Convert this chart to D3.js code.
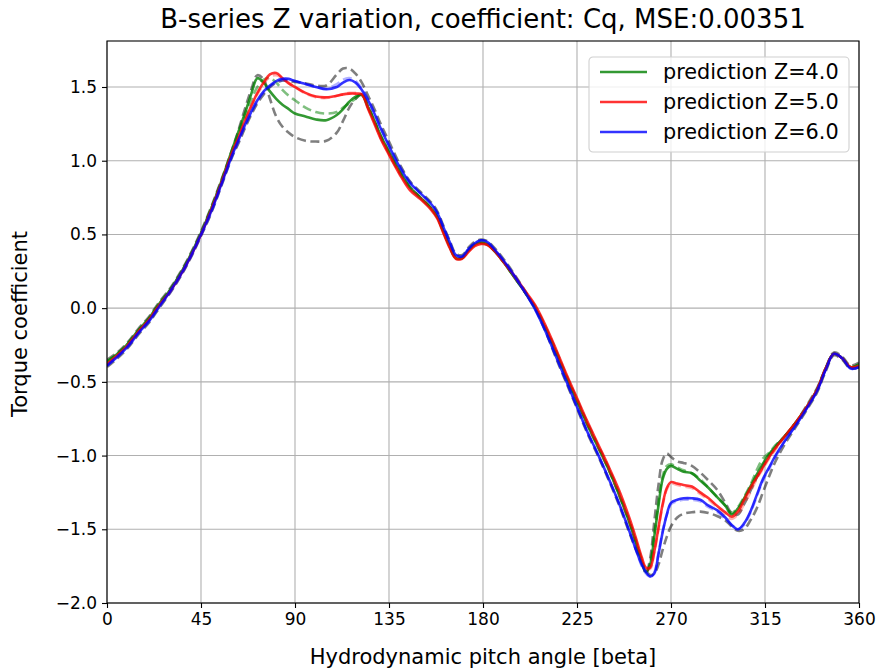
<!DOCTYPE html>
<html>
<head>
<meta charset="utf-8">
<script src="https://cdn.jsdelivr.net/npm/d3@7"></script>
<style>
  html, body { margin: 0; padding: 0; background: #fff; }
  svg text { font-family: "DejaVu Sans", sans-serif; fill: #000; }
</style>
</head>
<body>
<svg id="chart" width="883" height="672"></svg>
<script>
// Hydrodynamic pitch angle samples (degrees)
const angles = [0,5,10,15,20,25,30,35,40,45,50,55,60,
  63,66,69,72,75,78,81,84,87,90,
  95,100,105,110,
  113,116,119,122,125,128,131,
  135,140,145,150,155,
  158,161,164,167,170,173,176,179,182,
  186,190,195,200,205,210,215,220,225,230,235,240,245,250,
  253,256,258,260,262,264,266,268,270,
  273,276,280,284,288,292,296,299,302,305,308,311,314,317,320,
  325,330,335,340,344,348,352,356,360];

// Predicted torque coefficient Cq
const predZ4 = [-0.36,-0.31,-0.24,-0.15,-0.07,0.03,0.12,0.23,0.36,0.51,0.68,0.87,1.08,
  1.20,1.32,1.45,1.56,1.53,1.47,1.42,1.38,1.35,1.32,
  1.30,1.28,1.275,1.31,
  1.35,1.40,1.435,1.445,1.36,1.27,1.17,
  1.06,0.93,0.82,0.75,0.68,
  0.62,0.52,0.42,0.34,0.34,0.39,0.43,0.445,0.435,
  0.38,0.31,0.21,0.11,0.0,-0.14,-0.30,-0.47,-0.63,-0.79,-0.94,-1.09,-1.26,-1.45,
  -1.58,-1.72,-1.79,-1.74,-1.55,-1.34,-1.16,-1.09,-1.07,
  -1.09,-1.11,-1.12,-1.17,-1.22,-1.28,-1.34,-1.40,-1.36,-1.29,-1.21,-1.13,-1.055,-0.99,-0.94,
  -0.86,-0.77,-0.67,-0.55,-0.41,-0.31,-0.34,-0.40,-0.38];

const predZ5 = [-0.38,-0.32,-0.25,-0.16,-0.08,0.02,0.11,0.22,0.35,0.50,0.67,0.86,1.06,
  1.16,1.27,1.37,1.46,1.53,1.585,1.595,1.56,1.525,1.50,
  1.46,1.435,1.43,1.44,
  1.45,1.455,1.455,1.45,1.35,1.25,1.15,
  1.04,0.91,0.80,0.74,0.67,
  0.61,0.51,0.41,0.335,0.335,0.38,0.42,0.435,0.43,
  0.38,0.31,0.22,0.12,0.02,-0.12,-0.28,-0.45,-0.61,-0.77,-0.92,-1.07,-1.23,-1.42,
  -1.55,-1.69,-1.76,-1.76,-1.65,-1.49,-1.33,-1.22,-1.18,
  -1.19,-1.20,-1.21,-1.25,-1.29,-1.34,-1.385,-1.415,-1.38,-1.30,-1.22,-1.15,-1.08,-1.01,-0.95,
  -0.86,-0.77,-0.67,-0.55,-0.41,-0.31,-0.34,-0.40,-0.39];

const predZ6 = [-0.39,-0.33,-0.26,-0.17,-0.09,0.01,0.11,0.22,0.35,0.50,0.66,0.85,1.04,
  1.14,1.24,1.33,1.41,1.47,1.51,1.54,1.555,1.555,1.54,
  1.52,1.50,1.485,1.50,
  1.53,1.547,1.53,1.48,1.41,1.32,1.22,
  1.10,0.96,0.85,0.78,0.71,
  0.65,0.55,0.45,0.36,0.35,0.40,0.44,0.46,0.45,
  0.39,0.32,0.22,0.11,-0.01,-0.16,-0.33,-0.50,-0.67,-0.84,-0.99,-1.15,-1.32,-1.51,
  -1.63,-1.74,-1.79,-1.82,-1.80,-1.67,-1.52,-1.40,-1.32,
  -1.30,-1.29,-1.29,-1.30,-1.34,-1.37,-1.42,-1.47,-1.50,-1.46,-1.38,-1.27,-1.16,-1.08,-1.00,
  -0.89,-0.79,-0.68,-0.56,-0.42,-0.31,-0.34,-0.41,-0.40];

// Reference B-series data (dashed)
const dataZ3 = [-0.35,-0.30,-0.23,-0.14,-0.06,0.04,0.13,0.24,0.37,0.52,0.69,0.88,1.08,
  1.21,1.35,1.48,1.58,1.55,1.42,1.30,1.23,1.19,1.16,
  1.135,1.13,1.135,1.19,
  1.27,1.36,1.42,1.45,1.37,1.27,1.16,
  1.05,0.92,0.82,0.75,0.68,
  0.62,0.52,0.42,0.34,0.34,0.39,0.43,0.44,0.43,
  0.38,0.31,0.21,0.11,0.01,-0.13,-0.29,-0.46,-0.62,-0.78,-0.93,-1.08,-1.25,-1.44,
  -1.57,-1.71,-1.80,-1.70,-1.45,-1.20,-1.03,-0.985,-1.01,
  -1.04,-1.05,-1.07,-1.115,-1.17,-1.23,-1.32,-1.39,-1.40,-1.33,-1.24,-1.15,-1.07,-1.00,-0.94,
  -0.86,-0.77,-0.66,-0.54,-0.41,-0.30,-0.33,-0.39,-0.37];

const dataZ4 = [-0.37,-0.31,-0.24,-0.15,-0.07,0.03,0.12,0.23,0.36,0.51,0.68,0.87,1.06,
  1.18,1.30,1.41,1.50,1.55,1.56,1.53,1.48,1.44,1.41,
  1.36,1.33,1.32,1.33,
  1.36,1.39,1.42,1.45,1.37,1.27,1.17,
  1.06,0.93,0.82,0.75,0.68,
  0.62,0.52,0.42,0.34,0.34,0.39,0.43,0.445,0.435,
  0.38,0.31,0.21,0.11,0.0,-0.14,-0.30,-0.47,-0.63,-0.79,-0.94,-1.09,-1.26,-1.45,
  -1.58,-1.72,-1.79,-1.73,-1.53,-1.31,-1.14,-1.07,-1.06,
  -1.08,-1.10,-1.12,-1.16,-1.22,-1.28,-1.34,-1.39,-1.35,-1.28,-1.20,-1.10,-1.02,-0.98,-0.93,
  -0.86,-0.77,-0.67,-0.55,-0.41,-0.31,-0.34,-0.40,-0.38];

const dataZ5 = [-0.38,-0.32,-0.25,-0.16,-0.08,0.02,0.11,0.22,0.35,0.50,0.67,0.86,1.05,
  1.15,1.26,1.36,1.45,1.52,1.57,1.58,1.56,1.53,1.50,
  1.455,1.43,1.425,1.44,
  1.45,1.46,1.46,1.45,1.36,1.26,1.16,
  1.05,0.92,0.81,0.75,0.68,
  0.62,0.52,0.42,0.34,0.34,0.39,0.43,0.44,0.43,
  0.38,0.31,0.21,0.11,0.0,-0.14,-0.30,-0.47,-0.63,-0.79,-0.94,-1.09,-1.26,-1.45,
  -1.58,-1.71,-1.77,-1.77,-1.66,-1.50,-1.34,-1.23,-1.19,
  -1.20,-1.21,-1.22,-1.26,-1.30,-1.35,-1.40,-1.43,-1.40,-1.33,-1.25,-1.16,-1.09,-1.02,-0.96,
  -0.86,-0.77,-0.67,-0.55,-0.41,-0.31,-0.34,-0.40,-0.39];

const dataZ6 = [-0.39,-0.33,-0.26,-0.17,-0.09,0.01,0.10,0.21,0.34,0.49,0.65,0.84,1.03,
  1.13,1.23,1.32,1.40,1.46,1.50,1.53,1.545,1.55,1.54,
  1.52,1.50,1.49,1.52,
  1.55,1.56,1.54,1.49,1.42,1.33,1.23,
  1.11,0.97,0.86,0.78,0.71,
  0.65,0.55,0.45,0.36,0.35,0.40,0.44,0.46,0.45,
  0.39,0.32,0.22,0.11,-0.01,-0.16,-0.33,-0.50,-0.67,-0.84,-0.99,-1.15,-1.32,-1.51,
  -1.63,-1.75,-1.80,-1.82,-1.79,-1.66,-1.51,-1.40,-1.33,
  -1.31,-1.30,-1.30,-1.31,-1.35,-1.38,-1.43,-1.47,-1.50,-1.47,-1.39,-1.28,-1.17,-1.09,-1.01,
  -0.89,-0.79,-0.68,-0.56,-0.42,-0.31,-0.34,-0.41,-0.40];

const dataZ7 = [-0.40,-0.34,-0.27,-0.18,-0.10,0.00,0.10,0.21,0.34,0.49,0.65,0.84,1.03,
  1.12,1.22,1.31,1.39,1.45,1.50,1.53,1.545,1.54,1.535,
  1.525,1.51,1.51,1.585,
  1.625,1.625,1.59,1.53,1.44,1.35,1.25,
  1.13,0.98,0.86,0.79,0.72,
  0.66,0.56,0.46,0.37,0.36,0.41,0.45,0.465,0.455,
  0.40,0.33,0.23,0.12,0.0,-0.16,-0.34,-0.51,-0.68,-0.85,-1.00,-1.16,-1.33,-1.52,
  -1.63,-1.72,-1.78,-1.81,-1.80,-1.74,-1.64,-1.55,-1.48,
  -1.42,-1.395,-1.385,-1.38,-1.39,-1.41,-1.44,-1.48,-1.51,-1.50,-1.44,-1.36,-1.25,-1.14,-1.04,
  -0.91,-0.80,-0.69,-0.57,-0.43,-0.32,-0.35,-0.41,-0.40];

const xTicks = [0,45,90,135,180,225,270,315,360];
const yTicks = [-2.0,-1.5,-1.0,-0.5,0.0,0.5,1.0,1.5];
const legendLabels = ["prediction Z=4.0","prediction Z=5.0","prediction Z=6.0"];

const svg = d3.select("#chart");
const margin = {left: 107, right: 24, top: 41, bottom: 69};
const W = 883, H = 672;
const x = d3.scaleLinear().domain([0, 360]).range([margin.left, W - margin.right]);
const y = d3.scaleLinear().domain([-2.0, 1.812]).range([H - margin.bottom, margin.top]);

// grid
const grid = svg.append("g");
grid.selectAll("line.gx").data(xTicks).join("line")
  .attr("x1", d => x(d)).attr("x2", d => x(d))
  .attr("y1", y.range()[1]).attr("y2", y.range()[0])
  .attr("stroke", "#b0b0b0").attr("stroke-width", 1.1);
grid.selectAll("line.gy").data(yTicks).join("line")
  .attr("y1", d => y(d)).attr("y2", d => y(d))
  .attr("x1", x.range()[0]).attr("x2", x.range()[1])
  .attr("stroke", "#b0b0b0").attr("stroke-width", 1.1);

// curves
svg.append("clipPath").attr("id", "plotclip").append("rect")
  .attr("x", x.range()[0]).attr("y", y.range()[1])
  .attr("width", x.range()[1] - x.range()[0]).attr("height", y.range()[0] - y.range()[1]);
const plot = svg.append("g").attr("clip-path", "url(#plotclip)");
const line = d3.line().x((d, i) => x(angles[i])).y(d => y(d)).curve(d3.curveCatmullRom.alpha(0.5));

const dashed = "9,4.5";
const layers = [
  {v: dataZ3, c: "#000", o: 0.5, dash: dashed},
  {v: dataZ7, c: "#000", o: 0.5, dash: dashed},
  {v: dataZ4, c: "#008000", o: 0.5, dash: dashed},
  {v: predZ4, c: "#008000", o: 0.8, dash: null},
  {v: dataZ5, c: "#ff0000", o: 0.3, dash: dashed},
  {v: predZ5, c: "#ff0000", o: 0.8, dash: null},
  {v: dataZ6, c: "#0000ff", o: 0.3, dash: dashed},
  {v: predZ6, c: "#0000ff", o: 0.8, dash: null}
];
layers.forEach(l => {
  plot.append("path").attr("d", line(l.v))
    .attr("fill", "none").attr("stroke", l.c).attr("stroke-opacity", l.o)
    .attr("stroke-width", 2.6).attr("stroke-dasharray", l.dash)
    .attr("stroke-linejoin", "round");
});

// axes
const fmtY = d => d3.format(".1f")(d).replace("-", "\u2212");
const xAxis = svg.append("g").attr("transform", `translate(0,${y.range()[0]})`)
  .call(d3.axisBottom(x).tickValues(xTicks).tickSize(5).tickPadding(5).tickFormat(d3.format("d")));
const yAxis = svg.append("g").attr("transform", `translate(${x.range()[0]},0)`)
  .call(d3.axisLeft(y).tickValues(yTicks).tickSize(5).tickPadding(5).tickFormat(fmtY));
[xAxis, yAxis].forEach(a => {
  a.select(".domain").remove();
  a.selectAll("line").attr("stroke", "#000").attr("stroke-width", 1.1);
  a.selectAll("text").style("font-family", "DejaVu Sans").style("font-size", "17px");
});

// frame
svg.append("rect").attr("x", x.range()[0]).attr("y", y.range()[1])
  .attr("width", x.range()[1] - x.range()[0]).attr("height", y.range()[0] - y.range()[1])
  .attr("fill", "none").attr("stroke", "#000").attr("stroke-width", 1.1);

// title and axis labels
svg.append("text").attr("x", (x.range()[0] + x.range()[1]) / 2).attr("y", 28)
  .attr("text-anchor", "middle").style("font-size", "26px")
  .text("B-series Z variation, coefficient: Cq, MSE:0.00351");
svg.append("text").attr("x", (x.range()[0] + x.range()[1]) / 2).attr("y", 664)
  .attr("text-anchor", "middle").style("font-size", "21px")
  .text("Hydrodynamic pitch angle [beta]");
svg.append("text").attr("transform", `translate(27,${(y.range()[0] + y.range()[1]) / 2 + 2}) rotate(-90)`)
  .attr("text-anchor", "middle").style("font-size", "21px")
  .text("Torque coefficient");

// legend
const lg = svg.append("g").attr("transform", "translate(589,57)");
lg.append("rect").attr("width", 260).attr("height", 95).attr("rx", 4)
  .attr("fill", "#fff").attr("fill-opacity", 0.8).attr("stroke", "#d0d0d0").attr("stroke-width", 1.1);
const legendColors = ["#008000", "#ff0000", "#0000ff"];
legendLabels.forEach((t, i) => {
  const yy = 15 + i * 30;
  lg.append("line").attr("x1", 11).attr("x2", 58).attr("y1", yy).attr("y2", yy)
    .attr("stroke", legendColors[i]).attr("stroke-opacity", 0.8).attr("stroke-width", 2.6);
  lg.append("text").attr("x", 74).attr("y", yy + 7).style("font-size", "20.8px").text(t);
});
</script>
</body>
</html>
